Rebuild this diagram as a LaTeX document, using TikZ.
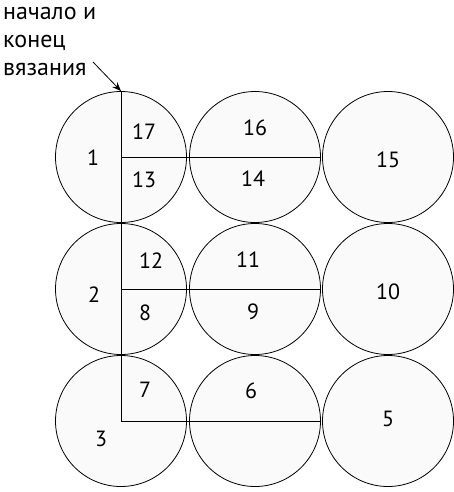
\documentclass[tikz,border=0pt]{standalone}
\usepackage{fontspec}
\setmainfont{PT Sans}
\usetikzlibrary{arrows.meta}
\begin{document}
\begin{tikzpicture}[x=1pt,y=-1pt,
    ring/.style={circle,draw,line width=0.8pt,fill=black!2,minimum size=131pt,inner sep=0pt},
    num/.style={font=\fontsize{22}{24}\selectfont,inner sep=0pt}]
			\useasboundingbox (0,0) rectangle (453,492);

			% Circles
			\node[ring] (c1) at (121,157) {};
			\node[ring] (c2) at (255,157) {};
			\node[ring] (c3) at (388,157) {};
			\node[ring] (c4) at (121,289) {};
			\node[ring] (c5) at (255,289) {};
			\node[ring] (c6) at (388,289) {};
			\node[ring] (c7) at (121,421) {};
			\node[ring] (c8) at (255,421) {};
			\node[ring] (c9) at (388,421) {};

			% Dividing lines
			\draw[line width=0.8pt] (c1.north) -- (c7.center);
			\draw[line width=0.8pt] (c1.center) -- (c2.east);
			\draw[line width=0.8pt] (c4.center) -- (c5.east);
			\draw[line width=0.8pt] (c7.center) -- (c8.east);

			% Numbers
			\node[num] (n1) at (93,158) {1};
			\node[num] (n17) at (144,132) {17};
			\node[num] (n13) at (144,180) {13};
			\node[num] (n16) at (255,128) {16};
			\node[num] (n14) at (253,179) {14};
			\node[num] (n15) at (388,160) {15};
			\node[num] (n2) at (94,295) {2};
			\node[num] (n12) at (151,261) {12};
			\node[num] (n8) at (145,313) {8};
			\node[num] (n11) at (248,260) {11};
			\node[num] (n9) at (253,312) {9};
			\node[num] (n10) at (388,292) {10};
			\node[num] (n3) at (101,439) {3};
			\node[num] (n7) at (145,390) {7};
			\node[num] (n6) at (251,391) {6};
			\node[num] (n5) at (388,419) {5};

			% Start and end
			\node[inner sep=0pt,font=\fontsize{24}{28}\selectfont,anchor=base west,align=left] (note) at (3,76)
				{начало и\\конец\\вязания};
			\coordinate (tail) at (93,62);
			\draw[line width=0.8pt,-{Stealth[length=9pt,width=7pt]}] (tail) -- (c1.north);
		\end{tikzpicture}
\end{document}
